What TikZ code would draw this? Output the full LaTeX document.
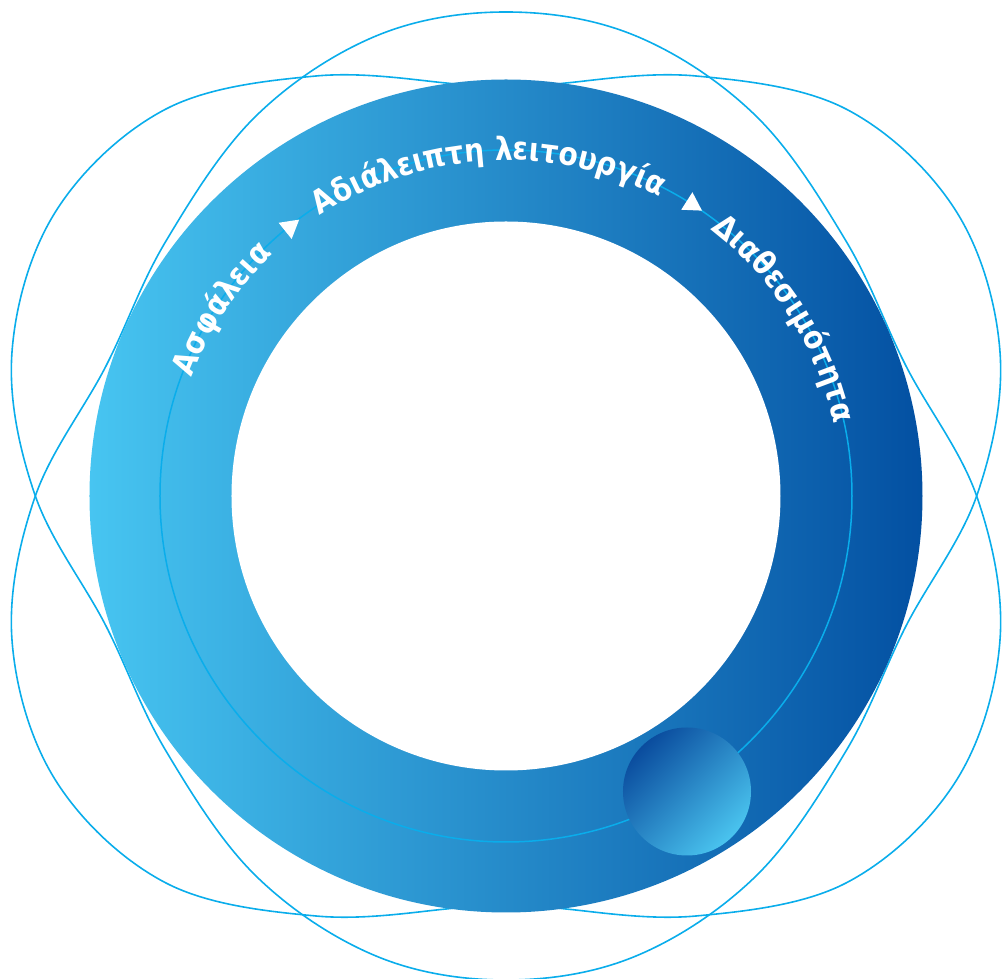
\documentclass[tikz,border=0pt]{standalone}
\usepackage{fontspec}
\newfontfamily\ringfont{DejaVu Sans}[FakeStretch=0.88]
\usepackage{xcolor}
\usepackage{tikz}
\usetikzlibrary{decorations.text,shapes.geometric}

\definecolor{ringlight}{HTML}{47C5F1}
\definecolor{ringdark}{HTML}{0350A2}
\definecolor{orbitblue}{HTML}{0AADEB}
\definecolor{knobdark}{HTML}{0A4C9E}
\definecolor{knoblight}{HTML}{4AC4EF}

\newcommand{\ringstyle}{\fontsize{16}{16}\ringfont\bfseries}

\tikzset{
	orbit/.style={draw=orbitblue, line width=0.8pt},
	guide/.style={draw=orbitblue, line width=0.75pt},
	ringtext/.style={decorate, decoration={text along path, text align=center,
		text color=white, text={|\ringstyle|#1}}},
	arrowtri/.style={regular polygon, regular polygon sides=3, fill=white,
		inner sep=0pt, minimum size=12pt},
	knob/.style={circle, inner sep=0pt, minimum size=64pt, shading=axis,
		top color=knobdark, bottom color=knoblight, shading angle=45}
}

\begin{document}
\begin{tikzpicture}[x=0.5pt, y=0.5pt]
			\useasboundingbox (-506,-483) rectangle (496,496);
			% orbits behind the ring
			\foreach \s in {1,-1}
				\draw[orbit, yscale=\s] plot[smooth cycle, tension=0.6] coordinates {
					(0,484) (-130,460) (-250,380) (-340,255) (-400,130) (-471,-1)
					(-494,-144) (-450,-285) (-340,-387) (-190,-420) (-60,-413)
					(0,-402)
					(60,-413) (190,-420) (340,-387) (450,-285) (494,-144)
					(471,-1) (400,130) (340,255) (250,380) (130,460)};
			% ring
			\shade[left color=ringlight, right color=ringdark] (0,0) circle (416.5);
			\fill[white] (0,0) circle (274.5);
			\draw[guide] (0,0) circle (346);
			% labels
			\path[ringtext={Ασφάλεια}] (186.7:336) arc[start angle=186.7, end angle=106.7, radius=336];
			\path[ringtext={Αδιάλειπτη λειτουργία}] (143.2:336) arc[start angle=143.2, end angle=43.2, radius=336];
			\path[ringtext={Διαθεσιμότητα}] (72.5:336) arc[start angle=72.5, end angle=-7.5, radius=336];
			\node[arrowtri, rotate=-51.2] (tri1) at (128.8:345) {};
			\node[arrowtri, rotate=-122.5] (tri2) at (57.5:346) {};
			\node[knob] (knob) at (181,-295.5) {};
		\end{tikzpicture}
\end{document}
